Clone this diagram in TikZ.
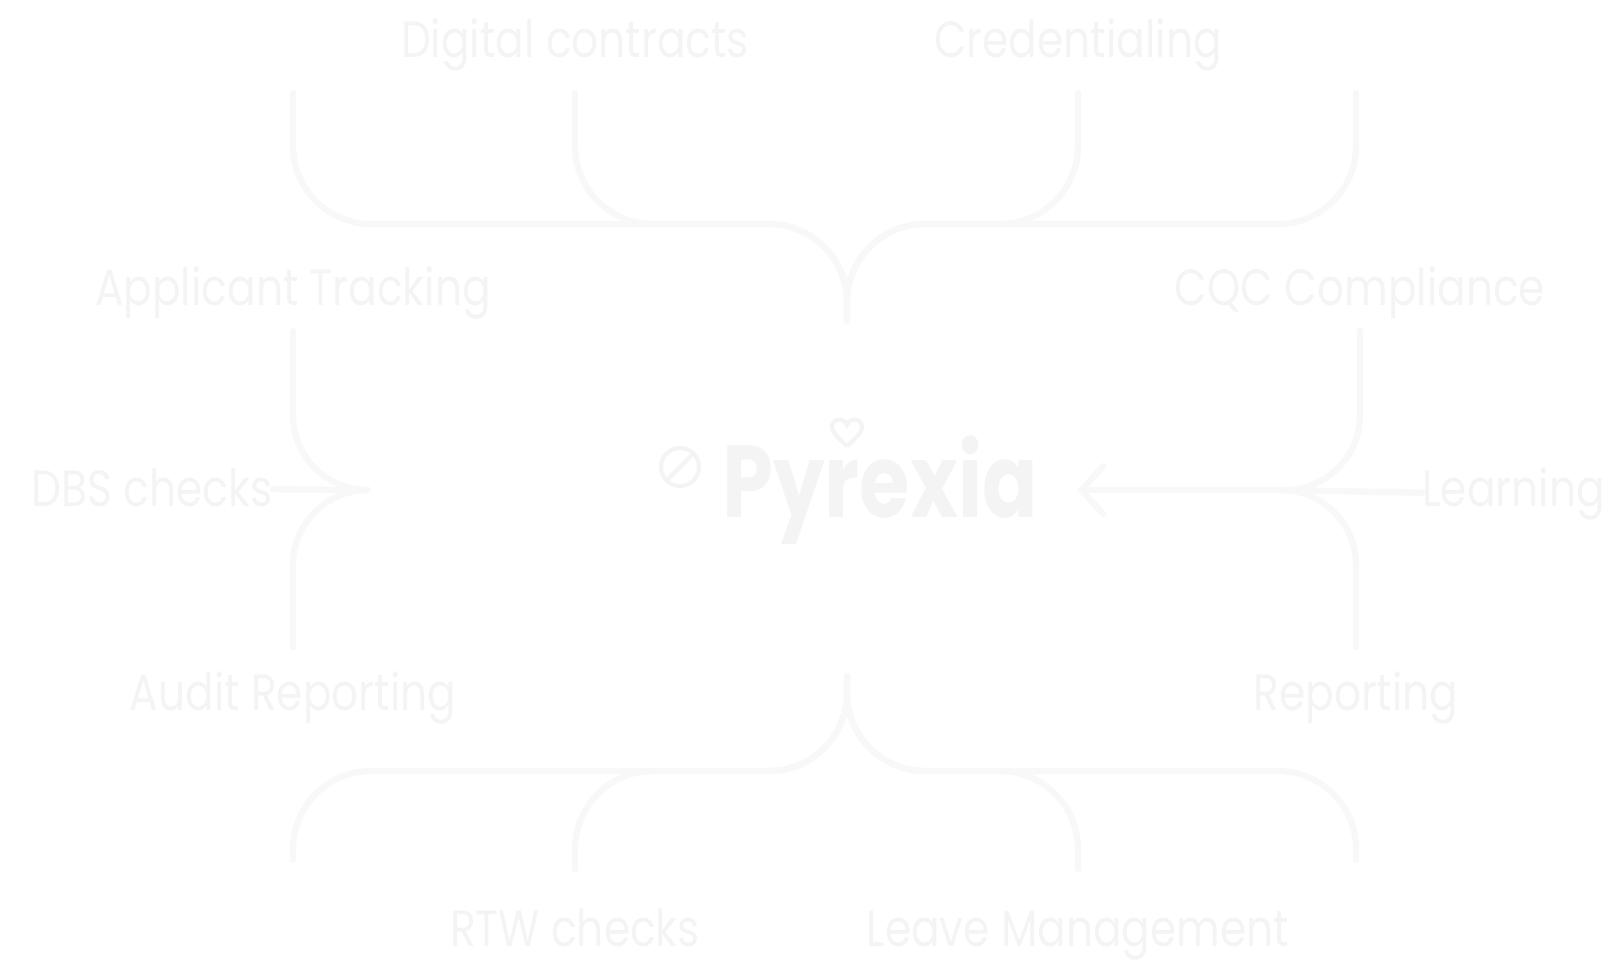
\documentclass[tikz,border=0pt]{standalone}
\usepackage{fontspec}
\setmainfont{Poppins}
\newfontfamily\tagfont{Poppins}[FakeStretch=0.83]
\newfontfamily\logofont{Poppins}[FakeStretch=0.8]
\usepackage{tikz}
\usetikzlibrary{positioning,calc,arrows.meta}

\definecolor{linegray}{HTML}{F8F8F8}
\definecolor{textgray}{HTML}{F4F4F4}

\begin{document}
\begin{tikzpicture}[
    x=0.01cm, y=-0.01cm,
    tag/.style={font=\tagfont\fontsize{14.5}{17}\selectfont, text=textgray, inner sep=0pt, anchor=base},
    brace/.style={draw=linegray, line width=1.8pt, rounded corners=0.78cm, line cap=round},
    logotext/.style={font=\logofont\fontsize{29}{34}\selectfont\bfseries, text=textgray, inner sep=0pt, anchor=base},
    chevron/.style={-{Straight Barb[length=2.2mm, width=4.8mm, line cap=round]}}
]
\useasboundingbox (0,0) rectangle (1623,973);

% labels
\node[tag] (contracts) at (575,58) {Digital contracts};
\node[tag] (cred) at (1078,58) {Credentialing};
\node[tag] (ats) at (293,306) {Applicant Tracking};
\node[tag] (cqc) at (1360,306) {CQC Compliance};
\node[tag, anchor=base east] (dbs) at (273,507) {DBS checks};
\node[tag, anchor=base west] (learn) at (1422,507) {Learning};
\node[tag] (audit) at (293,710) {Audit Reporting};
\node[tag] (report) at (1356,710) {Reporting};
\node[tag] (rtw) at (575,946) {RTW checks};
\node[tag] (leave) at (1078,946) {Leave Management};

% centre logo
\node[logotext] (logo) at (880,518) {Pyrexia};
\draw[draw=textgray, line width=1.2pt] (680,467) circle[radius=19];
\draw[draw=textgray, line width=1.2pt] (668,479) -- (692,455);
\draw[draw=textgray, line width=1.2pt] (847,446) .. controls (836,436) and (829,429) .. (833,423)
    .. controls (837,417) and (845,419) .. (847,425) .. controls (849,419) and (857,417) .. (861,423)
    .. controls (865,429) and (858,436) .. (847,446);

% junctions
\coordinate (tjoin) at (847,224);
\coordinate (cusptop) at (847,321);
\coordinate (bjoin) at (847,771);
\coordinate (cuspbot) at (847,676);
\coordinate (stubnw) at (293,93);
\coordinate (stubne) at (1356,93);
\coordinate (stubsw) at (293,860);
\coordinate (stubse) at (1356,860);
\coordinate (ltip) at (368,490);
\coordinate (rtip) at (1281,490);
\coordinate (rhead) at (1077,490);

% top bracket
\draw[brace] (stubnw) |- (tjoin) -- (cusptop);
\draw[brace] ([yshift=-3.5mm]contracts.base) |- (tjoin) -- (cusptop);
\draw[brace] (stubne) |- (tjoin) -- (cusptop);
\draw[brace] ([yshift=-3.5mm]cred.base) |- (tjoin) -- (cusptop);

% left brace
\draw[brace, rounded corners=0.75cm] ([yshift=-2.5mm]ats.base) |- (ltip);
\draw[brace, rounded corners=0.75cm] (ltip) -| ([yshift=6.3mm]audit.base);
\draw[brace] (dbs) -- (ltip);

% right brace
\draw[brace, rounded corners=0.75cm] ([yshift=-2.5mm]cqc.base) |- (rtip);
\draw[brace, rounded corners=0.75cm] (rtip) -| ([yshift=6.3mm]report.base);
\draw[brace] (learn) -- (rtip);
\draw[brace, chevron] (rtip) -- (rhead);

% bottom bracket
\draw[brace] (stubsw) |- (bjoin) -- (cuspbot);
\draw[brace] ([yshift=7.7mm]rtw.base) |- (bjoin) -- (cuspbot);
\draw[brace] (stubse) |- (bjoin) -- (cuspbot);
\draw[brace] ([yshift=7.7mm]leave.base) |- (bjoin) -- (cuspbot);

\end{tikzpicture}
\end{document}
